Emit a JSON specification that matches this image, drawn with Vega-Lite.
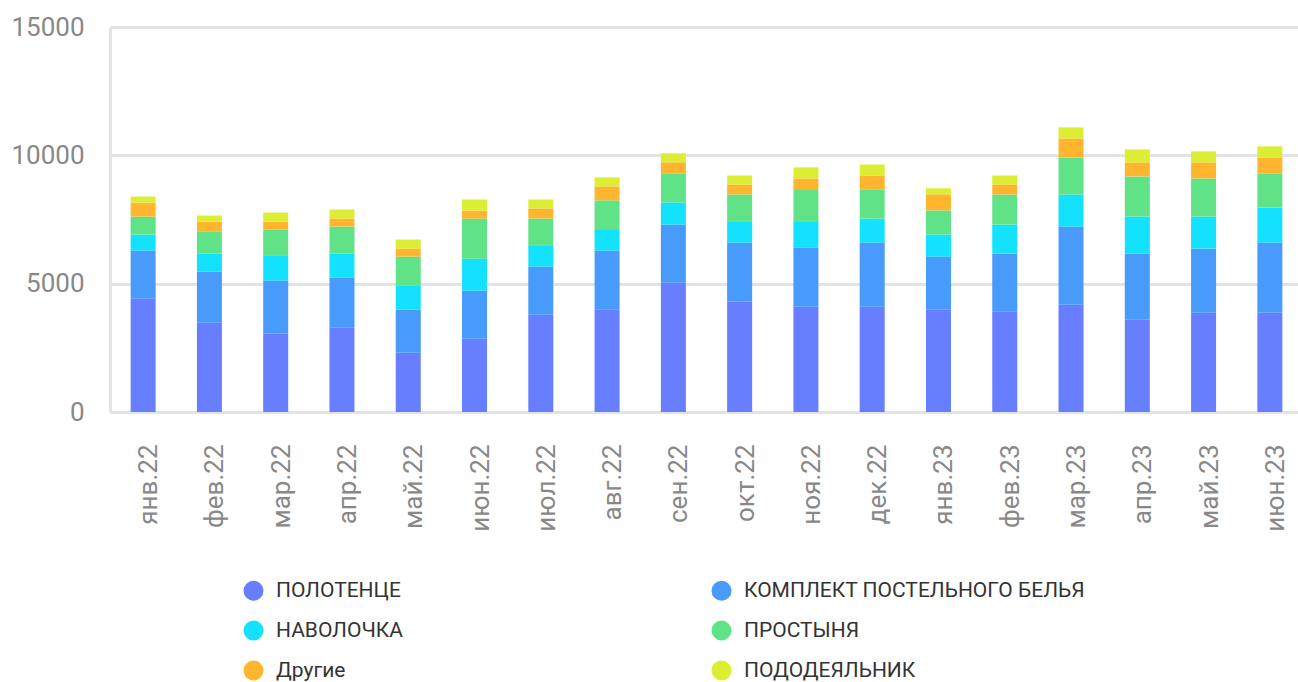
{
  "$schema": "https://vega.github.io/schema/vega-lite/v6.json",
  "width": 1193,
  "height": 385,
  "autosize": "none",
  "padding": {"left": 110, "top": 27, "right": 0, "bottom": 270},
  "background": "#ffffff",
  "config": {
    "view": {"stroke": null},
    "font": "Roboto"
  },
  "data": {
    "values": [
      {"month": "янв.22", "type": "ПОЛОТЕНЦЕ", "value": 4410, "i": 1},
      {"month": "янв.22", "type": "КОМПЛЕКТ ПОСТЕЛЬНОГО БЕЛЬЯ", "value": 1880, "i": 2},
      {"month": "янв.22", "type": "НАВОЛОЧКА", "value": 625, "i": 3},
      {"month": "янв.22", "type": "ПРОСТЫНЯ", "value": 700, "i": 4},
      {"month": "янв.22", "type": "Другие", "value": 545, "i": 5},
      {"month": "янв.22", "type": "ПОДОДЕЯЛЬНИК", "value": 235, "i": 6},
      {"month": "фев.22", "type": "ПОЛОТЕНЦЕ", "value": 3475, "i": 1},
      {"month": "фев.22", "type": "КОМПЛЕКТ ПОСТЕЛЬНОГО БЕЛЬЯ", "value": 1990, "i": 2},
      {"month": "фев.22", "type": "НАВОЛОЧКА", "value": 715, "i": 3},
      {"month": "фев.22", "type": "ПРОСТЫНЯ", "value": 860, "i": 4},
      {"month": "фев.22", "type": "Другие", "value": 380, "i": 5},
      {"month": "фев.22", "type": "ПОДОДЕЯЛЬНИК", "value": 235, "i": 6},
      {"month": "мар.22", "type": "ПОЛОТЕНЦЕ", "value": 3060, "i": 1},
      {"month": "мар.22", "type": "КОМПЛЕКТ ПОСТЕЛЬНОГО БЕЛЬЯ", "value": 2060, "i": 2},
      {"month": "мар.22", "type": "НАВОЛОЧКА", "value": 990, "i": 3},
      {"month": "мар.22", "type": "ПРОСТЫНЯ", "value": 1000, "i": 4},
      {"month": "мар.22", "type": "Другие", "value": 310, "i": 5},
      {"month": "мар.22", "type": "ПОДОДЕЯЛЬНИК", "value": 350, "i": 6},
      {"month": "апр.22", "type": "ПОЛОТЕНЦЕ", "value": 3280, "i": 1},
      {"month": "апр.22", "type": "КОМПЛЕКТ ПОСТЕЛЬНОГО БЕЛЬЯ", "value": 1950, "i": 2},
      {"month": "апр.22", "type": "НАВОЛОЧКА", "value": 950, "i": 3},
      {"month": "апр.22", "type": "ПРОСТЫНЯ", "value": 1045, "i": 4},
      {"month": "апр.22", "type": "Другие", "value": 315, "i": 5},
      {"month": "апр.22", "type": "ПОДОДЕЯЛЬНИК", "value": 350, "i": 6},
      {"month": "май.22", "type": "ПОЛОТЕНЦЕ", "value": 2305, "i": 1},
      {"month": "май.22", "type": "КОМПЛЕКТ ПОСТЕЛЬНОГО БЕЛЬЯ", "value": 1680, "i": 2},
      {"month": "май.22", "type": "НАВОЛОЧКА", "value": 950, "i": 3},
      {"month": "май.22", "type": "ПРОСТЫНЯ", "value": 1120, "i": 4},
      {"month": "май.22", "type": "Другие", "value": 315, "i": 5},
      {"month": "май.22", "type": "ПОДОДЕЯЛЬНИК", "value": 350, "i": 6},
      {"month": "июн.22", "type": "ПОЛОТЕНЦЕ", "value": 2850, "i": 1},
      {"month": "июн.22", "type": "КОМПЛЕКТ ПОСТЕЛЬНОГО БЕЛЬЯ", "value": 1875, "i": 2},
      {"month": "июн.22", "type": "НАВОЛОЧКА", "value": 1250, "i": 3},
      {"month": "июн.22", "type": "ПРОСТЫНЯ", "value": 1560, "i": 4},
      {"month": "июн.22", "type": "Другие", "value": 315, "i": 5},
      {"month": "июн.22", "type": "ПОДОДЕЯЛЬНИК", "value": 430, "i": 6},
      {"month": "июл.22", "type": "ПОЛОТЕНЦЕ", "value": 3790, "i": 1},
      {"month": "июл.22", "type": "КОМПЛЕКТ ПОСТЕЛЬНОГО БЕЛЬЯ", "value": 1875, "i": 2},
      {"month": "июл.22", "type": "НАВОЛОЧКА", "value": 835, "i": 3},
      {"month": "июл.22", "type": "ПРОСТЫНЯ", "value": 1040, "i": 4},
      {"month": "июл.22", "type": "Другие", "value": 390, "i": 5},
      {"month": "июл.22", "type": "ПОДОДЕЯЛЬНИК", "value": 350, "i": 6},
      {"month": "авг.22", "type": "ПОЛОТЕНЦЕ", "value": 4000, "i": 1},
      {"month": "авг.22", "type": "КОМПЛЕКТ ПОСТЕЛЬНОГО БЕЛЬЯ", "value": 2290, "i": 2},
      {"month": "авг.22", "type": "НАВОЛОЧКА", "value": 835, "i": 3},
      {"month": "авг.22", "type": "ПРОСТЫНЯ", "value": 1120, "i": 4},
      {"month": "авг.22", "type": "Другие", "value": 545, "i": 5},
      {"month": "авг.22", "type": "ПОДОДЕЯЛЬНИК", "value": 350, "i": 6},
      {"month": "сен.22", "type": "ПОЛОТЕНЦЕ", "value": 5040, "i": 1},
      {"month": "сен.22", "type": "КОМПЛЕКТ ПОСТЕЛЬНОГО БЕЛЬЯ", "value": 2265, "i": 2},
      {"month": "сен.22", "type": "НАВОЛОЧКА", "value": 860, "i": 3},
      {"month": "сен.22", "type": "ПРОСТЫНЯ", "value": 1135, "i": 4},
      {"month": "сен.22", "type": "Другие", "value": 430, "i": 5},
      {"month": "сен.22", "type": "ПОДОДЕЯЛЬНИК", "value": 350, "i": 6},
      {"month": "окт.22", "type": "ПОЛОТЕНЦЕ", "value": 4310, "i": 1},
      {"month": "окт.22", "type": "КОМПЛЕКТ ПОСТЕЛЬНОГО БЕЛЬЯ", "value": 2290, "i": 2},
      {"month": "окт.22", "type": "НАВОЛОЧКА", "value": 835, "i": 3},
      {"month": "окт.22", "type": "ПРОСТЫНЯ", "value": 1040, "i": 4},
      {"month": "окт.22", "type": "Другие", "value": 390, "i": 5},
      {"month": "окт.22", "type": "ПОДОДЕЯЛЬНИК", "value": 350, "i": 6},
      {"month": "ноя.22", "type": "ПОЛОТЕНЦЕ", "value": 4100, "i": 1},
      {"month": "ноя.22", "type": "КОМПЛЕКТ ПОСТЕЛЬНОГО БЕЛЬЯ", "value": 2305, "i": 2},
      {"month": "ноя.22", "type": "НАВОЛОЧКА", "value": 1030, "i": 3},
      {"month": "ноя.22", "type": "ПРОСТЫНЯ", "value": 1250, "i": 4},
      {"month": "ноя.22", "type": "Другие", "value": 415, "i": 5},
      {"month": "ноя.22", "type": "ПОДОДЕЯЛЬНИК", "value": 430, "i": 6},
      {"month": "дек.22", "type": "ПОЛОТЕНЦЕ", "value": 4100, "i": 1},
      {"month": "дек.22", "type": "КОМПЛЕКТ ПОСТЕЛЬНОГО БЕЛЬЯ", "value": 2500, "i": 2},
      {"month": "дек.22", "type": "НАВОЛОЧКА", "value": 935, "i": 3},
      {"month": "дек.22", "type": "ПРОСТЫНЯ", "value": 1140, "i": 4},
      {"month": "дек.22", "type": "Другие", "value": 540, "i": 5},
      {"month": "дек.22", "type": "ПОДОДЕЯЛЬНИК", "value": 430, "i": 6},
      {"month": "янв.23", "type": "ПОЛОТЕНЦЕ", "value": 3985, "i": 1},
      {"month": "янв.23", "type": "КОМПЛЕКТ ПОСТЕЛЬНОГО БЕЛЬЯ", "value": 2070, "i": 2},
      {"month": "янв.23", "type": "НАВОЛОЧКА", "value": 860, "i": 3},
      {"month": "янв.23", "type": "ПРОСТЫНЯ", "value": 940, "i": 4},
      {"month": "янв.23", "type": "Другие", "value": 625, "i": 5},
      {"month": "янв.23", "type": "ПОДОДЕЯЛЬНИК", "value": 235, "i": 6},
      {"month": "фев.23", "type": "ПОЛОТЕНЦЕ", "value": 3905, "i": 1},
      {"month": "фев.23", "type": "КОМПЛЕКТ ПОСТЕЛЬНОГО БЕЛЬЯ", "value": 2265, "i": 2},
      {"month": "фев.23", "type": "НАВОЛОЧКА", "value": 1135, "i": 3},
      {"month": "фев.23", "type": "ПРОСТЫНЯ", "value": 1170, "i": 4},
      {"month": "фев.23", "type": "Другие", "value": 390, "i": 5},
      {"month": "фев.23", "type": "ПОДОДЕЯЛЬНИК", "value": 350, "i": 6},
      {"month": "мар.23", "type": "ПОЛОТЕНЦЕ", "value": 4180, "i": 1},
      {"month": "мар.23", "type": "КОМПЛЕКТ ПОСТЕЛЬНОГО БЕЛЬЯ", "value": 3045, "i": 2},
      {"month": "мар.23", "type": "НАВОЛОЧКА", "value": 1250, "i": 3},
      {"month": "мар.23", "type": "ПРОСТЫНЯ", "value": 1445, "i": 4},
      {"month": "мар.23", "type": "Другие", "value": 740, "i": 5},
      {"month": "мар.23", "type": "ПОДОДЕЯЛЬНИК", "value": 430, "i": 6},
      {"month": "апр.23", "type": "ПОЛОТЕНЦЕ", "value": 3595, "i": 1},
      {"month": "апр.23", "type": "КОМПЛЕКТ ПОСТЕЛЬНОГО БЕЛЬЯ", "value": 2580, "i": 2},
      {"month": "апр.23", "type": "НАВОЛОЧКА", "value": 1445, "i": 3},
      {"month": "апр.23", "type": "ПРОСТЫНЯ", "value": 1560, "i": 4},
      {"month": "апр.23", "type": "Другие", "value": 545, "i": 5},
      {"month": "апр.23", "type": "ПОДОДЕЯЛЬНИК", "value": 505, "i": 6},
      {"month": "май.23", "type": "ПОЛОТЕНЦЕ", "value": 3865, "i": 1},
      {"month": "май.23", "type": "КОМПЛЕКТ ПОСТЕЛЬНОГО БЕЛЬЯ", "value": 2500, "i": 2},
      {"month": "май.23", "type": "НАВОЛОЧКА", "value": 1250, "i": 3},
      {"month": "май.23", "type": "ПРОСТЫНЯ", "value": 1485, "i": 4},
      {"month": "май.23", "type": "Другие", "value": 625, "i": 5},
      {"month": "май.23", "type": "ПОДОДЕЯЛЬНИК", "value": 430, "i": 6},
      {"month": "июн.23", "type": "ПОЛОТЕНЦЕ", "value": 3865, "i": 1},
      {"month": "июн.23", "type": "КОМПЛЕКТ ПОСТЕЛЬНОГО БЕЛЬЯ", "value": 2735, "i": 2},
      {"month": "июн.23", "type": "НАВОЛОЧКА", "value": 1365, "i": 3},
      {"month": "июн.23", "type": "ПРОСТЫНЯ", "value": 1330, "i": 4},
      {"month": "июн.23", "type": "Другие", "value": 625, "i": 5},
      {"month": "июн.23", "type": "ПОДОДЕЯЛЬНИК", "value": 430, "i": 6}
    ]
  },
  "mark": {"type": "bar", "size": 25},
  "encoding": {
    "x": {
      "field": "month",
      "type": "ordinal",
      "sort": null,
      "scale": {"paddingInner": 0, "paddingOuter": 0},
      "axis": {
        "title": null,
        "labelAngle": -90,
        "labelAlign": "right",
        "labelBaseline": "middle",
        "labelFontSize": 26,
        "labelColor": "#888888",
        "labelFont": "Roboto",
        "labelPadding": 32,
        "labelOffset": 6,
        "ticks": false,
        "domain": true,
        "domainColor": "#e3e3e3",
        "domainWidth": 3,
        "grid": false
      }
    },
    "y": {
      "field": "value",
      "type": "quantitative",
      "stack": "zero",
      "scale": {"domain": [0, 15000], "nice": false},
      "axis": {
        "title": null,
        "values": [0, 5000, 10000, 15000],
        "labelFontSize": 26,
        "labelColor": "#888888",
        "labelFont": "Roboto",
        "labelPadding": 26,
        "ticks": false,
        "domain": true,
        "domainColor": "#e3e3e3",
        "domainWidth": 3,
        "grid": true,
        "gridColor": "#e3e3e3",
        "gridWidth": 3,
        "format": "d"
      }
    },
    "color": {
      "field": "type",
      "type": "nominal",
      "scale": {
        "domain": ["ПОЛОТЕНЦЕ", "КОМПЛЕКТ ПОСТЕЛЬНОГО БЕЛЬЯ", "НАВОЛОЧКА", "ПРОСТЫНЯ", "Другие", "ПОДОДЕЯЛЬНИК"],
        "range": ["#667eff", "#489bfb", "#13e1fe", "#60e386", "#ffb62e", "#dbee33"]
      },
      "legend": {
        "title": null,
        "orient": "none",
        "direction": "horizontal",
        "legendX": 133,
        "legendY": 553,
        "columns": 2,
        "columnPadding": 308,
        "rowPadding": 18,
        "padding": 0,
        "symbolType": "circle",
        "symbolSize": 400,
        "symbolStrokeWidth": 0,
        "labelFontSize": 21,
        "labelFont": "Roboto",
        "labelColor": "#333333",
        "labelOffset": 12,
        "labelLimit": 600
      }
    },
    "order": {"field": "i", "type": "quantitative", "sort": "ascending"}
  }
}
